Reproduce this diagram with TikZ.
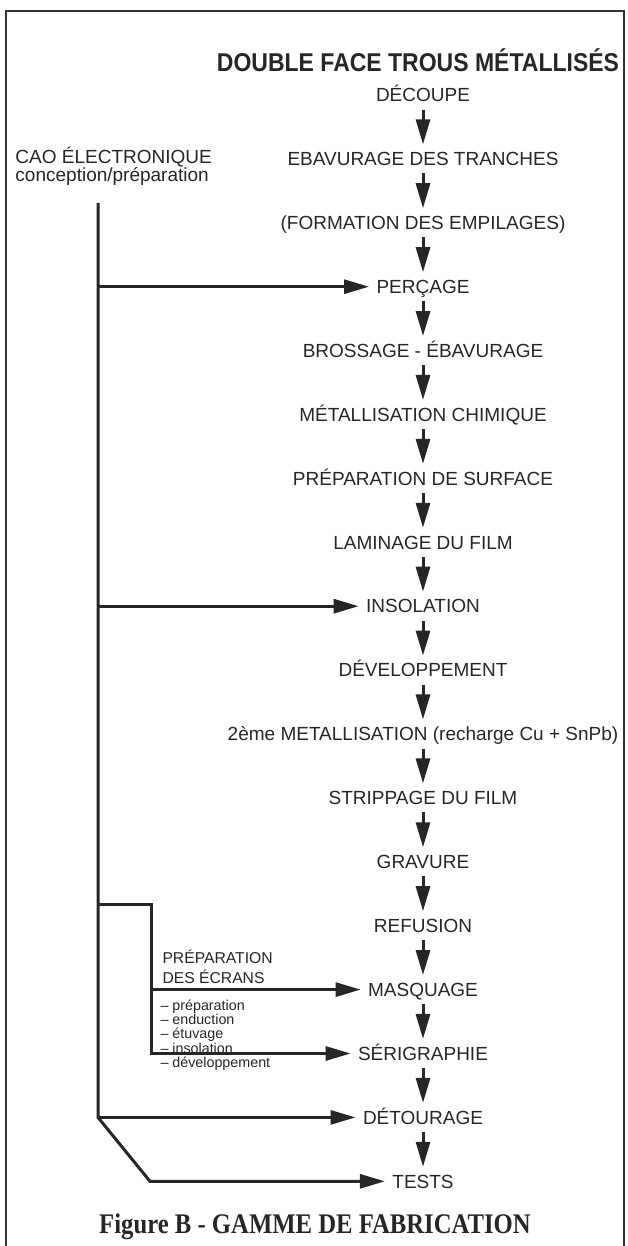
\documentclass[tikz,border=0pt]{standalone}
\usepackage{graphicx}
\usepackage{fontspec}
\setmainfont{Liberation Serif}
\setsansfont{Liberation Sans}
\usepackage{tikz}
\usetikzlibrary{arrows.meta,calc,positioning}

\begin{document}
\begin{tikzpicture}[x=1pt,y=-1pt,line width=3pt,
    stage/.style={font=\sffamily\fontsize{19}{21}\selectfont,text=black!85,
      text height=13.5pt,text depth=0pt,inner xsep=6pt,inner ysep=6.3pt},
    flow/.style={draw=black!85,-{Triangle[length=25pt,width=14pt]}},
    note/.style={font=\sffamily\fontsize{19}{21}\selectfont,text=black!85,anchor=west,inner sep=0pt}]
    \useasboundingbox (0,0) rectangle (627,1246);
    \draw[line width=2.2pt,black!80] (6,1246) -- (6,11) -- (624,11) -- (624,1246);
    \node[font=\sffamily\bfseries\fontsize{23}{26}\selectfont,text=black!85] (titre) at (418,60) {\scalebox{1}[1.12]{DOUBLE FACE TROUS MÉTALLISÉS}};
    % la gamme
    \node[stage] (decoupe)  at (423,95)     {DÉCOUPE};
    \node[stage] (ebav)     at (423,158.9)  {EBAVURAGE DES TRANCHES};
    \node[stage] (empil)    at (423,222.8)  {(FORMATION DES EMPILAGES)};
    \node[stage] (percage)  at (423,286.7)  {PERÇAGE};
    \node[stage] (brossage) at (423,350.6)  {BROSSAGE - ÉBAVURAGE};
    \node[stage] (metchim)  at (423,414.5)  {MÉTALLISATION CHIMIQUE};
    \node[stage] (prepsurf) at (423,478.4)  {PRÉPARATION DE SURFACE};
    \node[stage] (laminage) at (423,542.3)  {LAMINAGE DU FILM};
    \node[stage] (insol)    at (423,606.2)  {INSOLATION};
    \node[stage] (devel)    at (423,670.1)  {DÉVELOPPEMENT};
    \node[stage] (metal2)   at (423,734)    {2ème METALLISATION (recharge Cu + SnPb)};
    \node[stage] (strip)    at (423,797.9)  {STRIPPAGE DU FILM};
    \node[stage] (gravure)  at (423,861.8)  {GRAVURE};
    \node[stage] (refusion) at (423,925.7)  {REFUSION};
    \node[stage] (masquage) at (423,989.6)  {MASQUAGE};
    \node[stage] (serigr)   at (423,1053.5) {SÉRIGRAPHIE};
    \node[stage] (detour)   at (423,1117.4) {DÉTOURAGE};
    \node[stage] (tests)    at (423,1181.3) {TESTS};
    \draw[flow] (decoupe) -- (ebav);
    \draw[flow] (ebav) -- (empil);
    \draw[flow] (empil) -- (percage);
    \draw[flow] (percage) -- (brossage);
    \draw[flow] (brossage) -- (metchim);
    \draw[flow] (metchim) -- (prepsurf);
    \draw[flow] (prepsurf) -- (laminage);
    \draw[flow] (laminage) -- (insol);
    \draw[flow] (insol) -- (devel);
    \draw[flow] (devel) -- (metal2);
    \draw[flow] (metal2) -- (strip);
    \draw[flow] (strip) -- (gravure);
    \draw[flow] (gravure) -- (refusion);
    \draw[flow] (refusion) -- (masquage);
    \draw[flow] (masquage) -- (serigr);
    \draw[flow] (serigr) -- (detour);
    \draw[flow] (detour) -- (tests);
    % CAO
    \node[note] (cao) at (14,157) {CAO ÉLECTRONIQUE};
    \node[note] (caosub) at (14,176) {conception/préparation};
    \coordinate (busTop) at (98,203);
    \coordinate (busBend) at (98,1117.4);
    \coordinate (busFoot) at (150,1181.3);
    \draw[flow] (busTop) -- (busBend) -- (busFoot) -- (tests);
    \draw[flow] (busTop |- percage) -- (percage);
    \draw[flow] (busTop |- insol) -- (insol);
    \draw[flow] (busBend) -- (detour);
    % ecrans
    \coordinate (ecranTop) at (151,904);
    \node[note,font=\sffamily\fontsize{15.7}{20}\selectfont,align=left] (ecrans) at (161,967) {PRÉPARATION\\DES ÉCRANS};
    \node[note,font=\sffamily\fontsize{14.3}{14.3}\selectfont,align=left] (etapes) at (159,1035) {– préparation\\– enduction\\– étuvage\\– insolation\\– développement};
    \draw[flow] (busTop |- ecranTop) -- (ecranTop) -- (ecranTop |- serigr) -- (serigr);
    \draw[flow] (ecranTop |- masquage) -- (masquage);
    \node[font=\rmfamily\bfseries\fontsize{24.7}{26}\selectfont,text=black!85] (legende) at (315,1227) {\scalebox{1}[1.15]{Figure B - GAMME DE FABRICATION}};
  \end{tikzpicture}
\end{document}
